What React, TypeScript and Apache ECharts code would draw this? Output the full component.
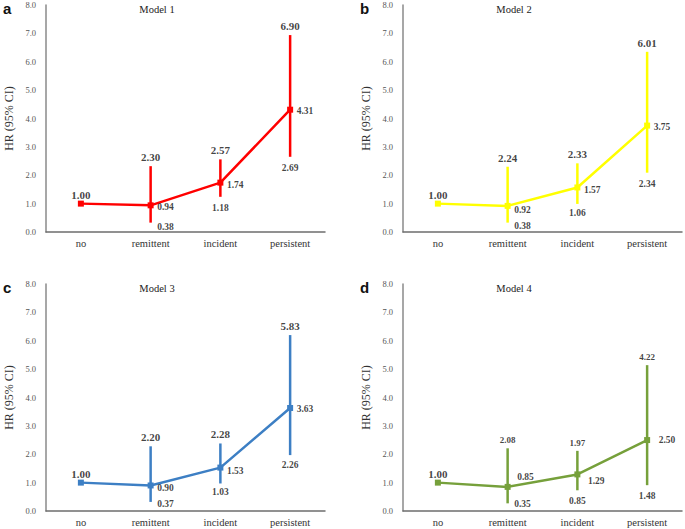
import React, { useEffect, useRef } from "react";
import * as echarts from "echarts";

const categories = ["no", "remittent", "incident", "persistent"];
const yTicks = [0, 1, 2, 3, 4, 5, 6, 7, 8];

// Panel a – Model 1
const hrA = [1.0, 0.94, 1.74, 4.31];
const ciLowA = [null, 0.38, 1.18, 2.69];
const ciHighA = [null, 2.3, 2.57, 6.9];
const barLowA = [null, 0.33, 1.24, 2.65];
const barHighA = [null, 2.32, 2.56, 6.94];

// Panel b – Model 2
const hrB = [1.0, 0.92, 1.57, 3.75];
const ciLowB = [null, 0.38, 1.06, 2.34];
const ciHighB = [null, 2.24, 2.33, 6.01];
const barLowB = [null, 0.33, 0.99, 2.09];
const barHighB = [null, 2.3, 2.42, 6.35];

// Panel c – Model 3
const hrC = [1.0, 0.9, 1.53, 3.63];
const ciLowC = [null, 0.37, 1.03, 2.26];
const ciHighC = [null, 2.2, 2.28, 5.83];
const barLowC = [null, 0.32, 0.97, 1.97];
const barHighC = [null, 2.28, 2.38, 6.2];

// Panel d – Model 4
const hrD = [1.0, 0.85, 1.29, 2.5];
const ciLowD = [null, 0.35, 0.85, 1.48];
const ciHighD = [null, 2.08, 1.97, 4.22];
const barLowD = [null, 0.27, 0.73, 0.91];
const barHighD = [null, 2.21, 2.12, 5.14];

const SERIF = "Liberation Serif";

type Panel = {
  letter: string;
  title: string;
  hr: number[];
  ciLow: (number | null)[];
  ciHigh: (number | null)[];
  barLow: (number | null)[];
  barHigh: (number | null)[];
  color: string;
  grid: { left: number; top: number; width: number; height: number };
  topFont: number;
  midOffsets: number[][];
  lowStyle: { pos: string; offset: number[] }[];
};

const panels: Panel[] = [
  {
    letter: "a", title: "Model 1", hr: hrA, ciLow: ciLowA, ciHigh: ciHighA, barLow: barLowA, barHigh: barHighA,
    color: "#ff0000", grid: { left: 46, top: 5, width: 279, height: 227 }, topFont: 11,
    midOffsets: [[0, 0], [3, 2], [3, 2], [3, 1]],
    lowStyle: [{ pos: "bottom", offset: [0, 0] }, { pos: "right", offset: [3, 4] }, { pos: "bottom", offset: [0, 3] }, { pos: "bottom", offset: [0, 3] }],
  },
  {
    letter: "b", title: "Model 2", hr: hrB, ciLow: ciLowB, ciHigh: ciHighB, barLow: barLowB, barHigh: barHighB,
    color: "#ffff00", grid: { left: 403, top: 5, width: 279, height: 227 }, topFont: 11,
    midOffsets: [[0, 0], [3, 4], [3, 3], [3, 1]],
    lowStyle: [{ pos: "bottom", offset: [0, 0] }, { pos: "right", offset: [3, 3] }, { pos: "bottom", offset: [0, 1] }, { pos: "bottom", offset: [0, 3] }],
  },
  {
    letter: "c", title: "Model 3", hr: hrC, ciLow: ciLowC, ciHigh: ciHighC, barLow: barLowC, barHigh: barHighC,
    color: "#3d7fc4", grid: { left: 46, top: 284, width: 279, height: 227 }, topFont: 11,
    midOffsets: [[0, 0], [3, 3], [3, 3], [3, 1]],
    lowStyle: [{ pos: "bottom", offset: [0, 0] }, { pos: "right", offset: [3, 2] }, { pos: "bottom", offset: [0, 0] }, { pos: "bottom", offset: [0, 1] }],
  },
  {
    letter: "d", title: "Model 4", hr: hrD, ciLow: ciLowD, ciHigh: ciHighD, barLow: barLowD, barHigh: barHighD,
    color: "#76a03b", grid: { left: 403, top: 284, width: 279, height: 227 }, topFont: 9,
    midOffsets: [[0, 0], [6, -10], [7, 7], [8, 0]],
    lowStyle: [{ pos: "bottom", offset: [0, 0] }, { pos: "right", offset: [3, 1] }, { pos: "bottom", offset: [0, 2] }, { pos: "bottom", offset: [0, 2] }],
  },
];

function buildOption() {
  const grids: any[] = [];
  const xAxes: any[] = [];
  const yAxes: any[] = [];
  const series: any[] = [];
  const graphics: any[] = [];

  panels.forEach((p, k) => {
    grids.push({ ...p.grid, containLabel: false });
    xAxes.push({
      type: "category",
      gridIndex: k,
      data: categories,
      boundaryGap: true,
      axisLine: { show: true, lineStyle: { color: "#6e6e6e", width: 1.5 } },
      axisTick: { show: false },
      axisLabel: { fontFamily: SERIF, fontSize: 10.5, color: "#333333", margin: 6 },
      splitLine: { show: false },
    });
    yAxes.push({
      type: "value",
      gridIndex: k,
      min: 0,
      max: 8,
      interval: 1,
      name: "HR (95% CI)",
      nameLocation: "middle",
      nameRotate: 90,
      nameGap: 31,
      nameTextStyle: { fontFamily: SERIF, fontSize: 12, color: "#333333" },
      axisLine: { show: true, lineStyle: { color: "#8a8a8a", width: 1.5 } },
      axisTick: { show: false },
      axisLabel: {
        fontFamily: SERIF,
        fontSize: 8.5,
        color: "#555555",
        margin: 10,
        formatter: (v: number) => (yTicks.includes(v) ? v.toFixed(1) : ""),
      },
      splitLine: { show: false },
    });

    // error bars
    const barData: number[][] = [];
    p.barLow.forEach((lo, i) => {
      const hi = p.barHigh[i];
      if (lo != null && hi != null) barData.push([i, lo, hi]);
    });
    series.push({
      type: "custom",
      xAxisIndex: k,
      yAxisIndex: k,
      data: barData,
      encode: { x: 0, y: [1, 2] },
      z: 2,
      renderItem: (params: any, api: any) => {
        const x = api.value(0);
        const a = api.coord([x, api.value(1)]);
        const b = api.coord([x, api.value(2)]);
        return {
          type: "line",
          shape: { x1: a[0], y1: a[1], x2: b[0], y2: b[1] },
          style: { stroke: p.color, lineWidth: 2.5 },
        };
      },
    });

    // HR line
    series.push({
      type: "line",
      xAxisIndex: k,
      yAxisIndex: k,
      data: p.hr,
      z: 3,
      symbol: "rect",
      symbolSize: 6,
      lineStyle: { color: p.color, width: 2.5 },
      itemStyle: { color: p.color },
      label: { show: false },
    });

    // labels
    const labelItems: any[] = [];
    const baseLabel = { show: true, fontFamily: SERIF, fontWeight: "bold", color: "#111111" };
    p.hr.forEach((h, i) => {
      if (i === 0) {
        labelItems.push({
          value: [i, h],
          label: { ...baseLabel, formatter: h.toFixed(2), position: "top", distance: 3, fontSize: 11 },
        });
      } else {
        const hi = p.barHigh[i];
        const txt = p.ciHigh[i];
        if (hi != null && txt != null) {
          labelItems.push({
            value: [i, hi],
            label: { ...baseLabel, formatter: txt.toFixed(2), position: "top", distance: 3, fontSize: p.topFont },
          });
        }
        labelItems.push({
          value: [i, h],
          label: { ...baseLabel, formatter: h.toFixed(2), position: "right", distance: 3, offset: p.midOffsets[i], fontSize: 9.5 },
        });
        const lo = p.barLow[i];
        const lt = p.ciLow[i];
        if (lo != null && lt != null) {
          const st = p.lowStyle[i];
          labelItems.push({
            value: [i, lo],
            label: { ...baseLabel, formatter: lt.toFixed(2), position: st.pos, distance: 3, offset: st.offset, fontSize: 9.5 },
          });
        }
      }
    });
    series.push({
      type: "scatter",
      xAxisIndex: k,
      yAxisIndex: k,
      data: labelItems,
      symbolSize: 1,
      z: 4,
      itemStyle: { color: "rgba(0,0,0,0)" },
      silent: true,
    });

    graphics.push({
      type: "text",
      x: p.grid.left - 43,
      y: p.grid.top + 3,
      style: {
        text: p.letter,
        font: "bold 15px Liberation Sans",
        fill: "#111111",
        textAlign: "left",
        textVerticalAlign: "middle",
      },
    });
    graphics.push({
      type: "text",
      x: p.grid.left + 111,
      y: p.grid.top + 4,
      style: {
        text: p.title,
        font: "10.5px Liberation Serif",
        fill: "#222222",
        textAlign: "center",
        textVerticalAlign: "middle",
      },
    });
  });

  return {
    animation: false,
    backgroundColor: "#ffffff",
    grid: grids,
    xAxis: xAxes,
    yAxis: yAxes,
    series,
    graphic: graphics,
  };
}

export default function App() {
  const ref = useRef<HTMLDivElement>(null);
  useEffect(() => {
    if (!ref.current) return;
    const chart = echarts.init(ref.current, undefined, { renderer: "svg" });
    chart.setOption(buildOption() as any);
    return () => chart.dispose();
  }, []);
  return (
    <div
      ref={ref}
      style={{ position: "fixed", left: 0, top: 0, width: 685, height: 529, background: "#fff" }}
    />
  );
}
